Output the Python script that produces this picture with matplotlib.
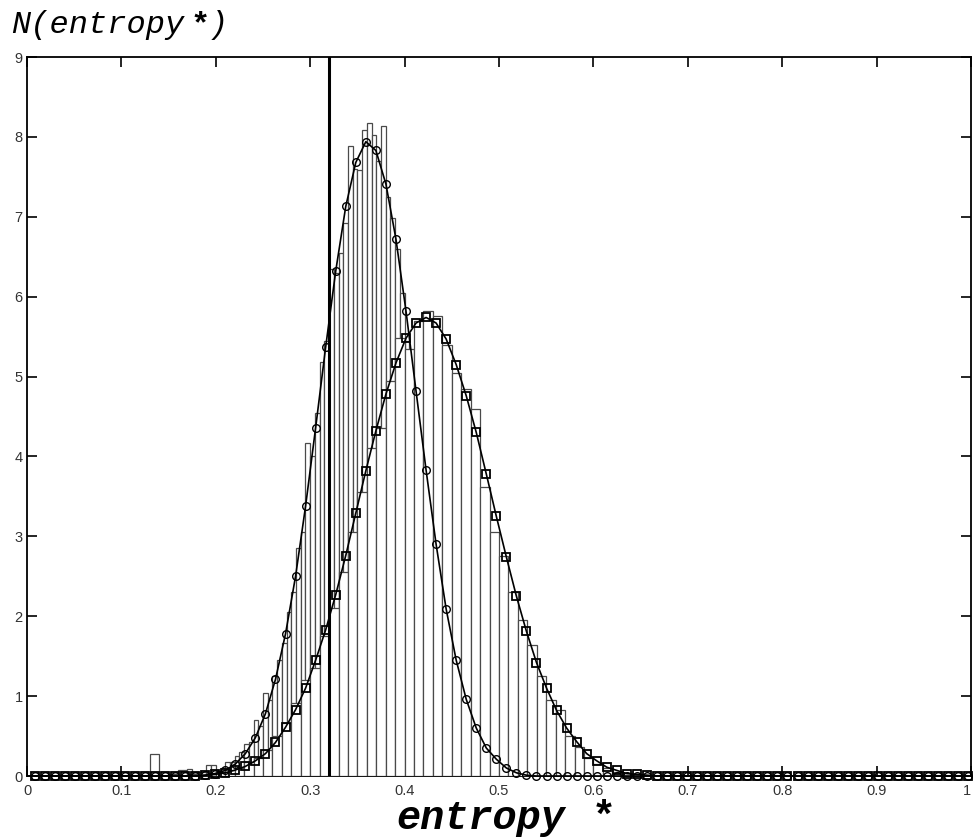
import numpy as np
import matplotlib
matplotlib.use("Agg")
import matplotlib.pyplot as plt

# fitted curves, sampled on a regular grid of 94 points between 0.008 and 0.997
n_pts = 94
circle_vals = ([0.0] * 17 +
               [0.01, 0.03, 0.07, 0.15, 0.28, 0.48, 0.78, 1.21, 1.78, 2.50, 3.38,
                4.36, 5.37, 6.32, 7.13, 7.68, 7.94, 7.83, 7.41, 6.72, 5.82, 4.82,
                3.83, 2.90, 2.09, 1.45, 0.96, 0.60, 0.35, 0.21, 0.10, 0.04, 0.01] +
               [0.0] * 44)
square_vals = ([0.0] * 17 +
               [0.01, 0.02, 0.04, 0.075, 0.12, 0.19, 0.28, 0.42, 0.61, 0.83, 1.10,
                1.45, 1.83, 2.27, 2.76, 3.29, 3.82, 4.32, 4.78, 5.17, 5.48, 5.67,
                5.74, 5.67, 5.47, 5.15, 4.76, 4.30, 3.78, 3.25, 2.74, 2.25, 1.81,
                1.42, 1.10, 0.82, 0.60, 0.43, 0.28, 0.19, 0.11, 0.07, 0.03, 0.02,
                0.01] +
               [0.0] * 32)

# narrow histogram (bin width 0.005, first bin starts at 0.150)
hist_a_start, hist_a_width = 0.150, 0.005
hist_a_vals = [0.00, 0.00, 0.07, 0.07, 0.09, 0.03, 0.00, 0.05, 0.14, 0.14,
               0.06, 0.10, 0.17, 0.17, 0.25, 0.30, 0.40, 0.42, 0.70, 0.62,
               1.04, 0.95, 1.25, 1.45, 1.66, 2.05, 2.30, 2.85, 3.05, 4.17,
               4.00, 4.55, 5.18, 5.45, 6.35, 6.30, 6.55, 6.92, 7.88, 7.60,
               7.58, 8.09, 8.17, 8.02, 7.70, 8.14, 7.25, 6.99, 6.60, 6.05,
               5.45, 4.95, 4.55, 4.05, 3.60, 3.15, 2.85, 2.40, 2.10, 1.80,
               1.50, 1.25, 1.00, 0.80, 0.62, 0.50, 0.38, 0.30, 0.22, 0.16,
               0.10, 0.08, 0.05, 0.03, 0.02]

# wide histogram (bin width 0.01, first bin starts at 0.13)
hist_b_start, hist_b_width = 0.13, 0.01
hist_b_vals = [0.27, 0.00, 0.02, 0.06, 0.03, 0.05, 0.04, 0.05, 0.08, 0.10,
               0.17, 0.22, 0.33, 0.50, 0.66, 0.92, 1.20, 1.35, 1.75, 2.10,
               2.55, 3.05, 3.55, 4.10, 4.35, 4.95, 5.48, 5.35, 5.70, 5.82,
               5.76, 5.40, 5.04, 4.85, 4.60, 3.62, 3.05, 2.75, 2.30, 1.95,
               1.64, 1.25, 0.95, 0.82, 0.50, 0.36, 0.22, 0.15, 0.10, 0.05,
               0.04, 0.02, 0.01]

threshold = 0.32
x_ticks = [0, 0.1, 0.2, 0.3, 0.4, 0.5, 0.6, 0.7, 0.8, 0.9, 1]
x_ticklabels = ["0", "0.1", "0.2", "0.3", "0.4", "0.5", "0.6", "0.7", "0.8", "0.9", "1"]
y_ticks = list(range(10))

W, H = 973, 840
fig = plt.figure(figsize=(W / 100, H / 100), dpi=100)
ax = fig.add_axes([27 / W, 1 - 776 / H, 944 / W, 719 / H])

edge_col = "#4a4a4a"
xa = hist_a_start + hist_a_width * np.arange(len(hist_a_vals))
ax.bar(xa, hist_a_vals, width=hist_a_width, align="edge",
       facecolor="white", edgecolor=edge_col, linewidth=0.9, zorder=2)
xb = hist_b_start + hist_b_width * np.arange(len(hist_b_vals))
ax.bar(xb, hist_b_vals, width=hist_b_width, align="edge",
       facecolor="white", edgecolor=edge_col, linewidth=0.9, zorder=3)

xc = np.linspace(0.008, 0.997, n_pts)
ax.plot(xc, circle_vals, color="black", lw=1.2, marker="o", ms=5.5,
        mfc="none", mec="black", mew=1.0, zorder=5, clip_on=False)
ax.plot(xc, square_vals, color="black", lw=1.2, marker="s", ms=5.5,
        mfc="none", mec="black", mew=1.3, zorder=5, clip_on=False)

ax.axvline(threshold, color="black", lw=2.2, zorder=6)

ax.set_xlim(0, 1)
ax.set_ylim(0, 9)
ax.set_xticks(x_ticks)
ax.set_xticklabels(x_ticklabels)
ax.set_yticks(y_ticks)
ax.tick_params(direction="in", top=True, right=True, length=7, width=1.2,
               labelsize=10.5, labelcolor="#333333")
ax.tick_params(axis="x", pad=6)
ax.tick_params(axis="y", pad=3)
for lab in ax.get_xticklabels() + ax.get_yticklabels():
    lab.set_family("Liberation Sans")
# keep the last x label inside the figure edge
ax.get_xticklabels()[-1].set_horizontalalignment("right")
for sp in ax.spines.values():
    sp.set_linewidth(1.3)

mono = "Liberation Mono"
# y label at top-left
fig.text(11 / W, 1 - 33 / H, "N(entropy", family=mono, style="italic",
         fontsize=23, va="baseline", ha="left")
fig.text(200 / W, 1 - 33 / H, "*", family=mono, fontweight="bold",
         fontsize=23, va="baseline", ha="center")
fig.text(209 / W, 1 - 33 / H, ")", family=mono, style="italic",
         fontsize=23, va="baseline", ha="left")
# x label at bottom
fig.text(396 / W, 1 - 829 / H, "entropy", family=mono, style="italic",
         fontweight="bold", fontsize=29, va="baseline", ha="left")
fig.text(604 / W, 1 - 829 / H, "*", family=mono, fontweight="bold",
         fontsize=29, va="baseline", ha="center")

fig.savefig("out.png", dpi=100)
